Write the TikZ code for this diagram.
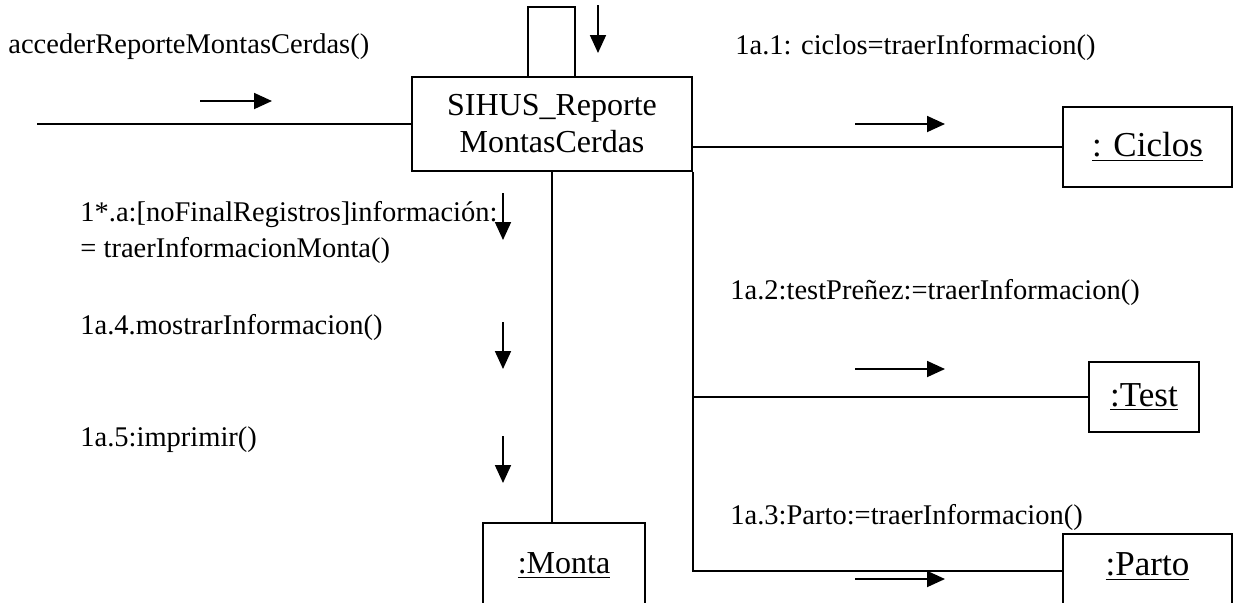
\documentclass[tikz,border=0pt]{standalone}
\usepackage{fontspec}
\setmainfont{Liberation Serif}
\usepackage{tikz}
\usetikzlibrary{arrows.meta,positioning}

\begin{document}
\begin{tikzpicture}[
  x=0.5pt,y=-0.5pt,
  every node/.style={font=\fontsize{14.25}{18}\selectfont},
  objbox/.style={rectangle,draw,line width=0.9pt,inner sep=0pt,align=center},
  bigname/.style={font=\fontsize{17.5}{20}\selectfont},
  lbl/.style={anchor=west,inner sep=0pt,align=left},
  msgarr/.style={-{Triangle[length=9pt,width=8pt]},line width=0.9pt},
  link/.style={line width=0.9pt}
]
\useasboundingbox (0,0) rectangle (1255,602);
% objects
\node[objbox,minimum width=140pt,minimum height=47pt,font=\fontsize{16}{18.5}\selectfont] (main) at (552,124) {SIHUS\_Reporte\\MontasCerdas};
\node[objbox,bigname,minimum width=84.5pt,minimum height=40pt] (ciclos) at (1147.5,147) {\underline{: Ciclos}};
\node[objbox,bigname,minimum width=55pt,minimum height=35pt] (test) at (1144,397) {\underline{:Test}};
\node[objbox,bigname,minimum width=84.5pt,anchor=north,text height=21pt,text depth=16pt] (parto) at (1147.5,533) {\underline{:Parto}};
\node[objbox,minimum width=81pt,anchor=north,font=\fontsize{16}{18}\selectfont,text height=25.5pt,text depth=18.5pt] (monta) at (564,522) {\underline{:Monta}};
% links
\coordinate (actor) at (37,124);
\coordinate (loopL) at (528,7);
\coordinate (loopR) at (575,7);
\coordinate (fork) at (main.south east);
\draw[link] (actor) -- (main.west);
\draw[link] (loopL |- main.north) -- (loopL) -- (loopR) -- (loopR |- main.north);
\draw[link] (ciclos.west -| main.east) -- (ciclos.west);
\draw[link] (main.south) -- (main.south |- monta.north);
\draw[link] (fork) |- (parto.west);
\draw[link] (test.west -| fork) -- (test.west);
% messages
\node[lbl] (m0) at (8,47) {accederReporteMontasCerdas()};
\node[lbl] (m1) at (735,47) {1a.1: ciclos=traerInformacion()};
\node[lbl] (m2) at (730,292) {1a.2:testPreñez:=traerInformacion()};
\node[lbl] (m3) at (730,517) {1a.3:Parto:=traerInformacion()};
\node[lbl] (m4) at (80,232) {1*.a:[noFinalRegistros]información:\\= traerInformacionMonta()};
\node[lbl] (m5) at (80,327) {1a.4.mostrarInformacion()};
\node[lbl] (m6) at (80,440) {1a.5:imprimir()};
\draw[msgarr] (200,101) -- (272,101);
\draw[msgarr] (598,5) -- (598,53);
\foreach \y in {124,369,579}
  \draw[msgarr] (855,\y) -- (945,\y);
\foreach \y in {193,322,436}
  \draw[msgarr] (503,\y) -- (503,\y+47);
\end{tikzpicture}
\end{document}
